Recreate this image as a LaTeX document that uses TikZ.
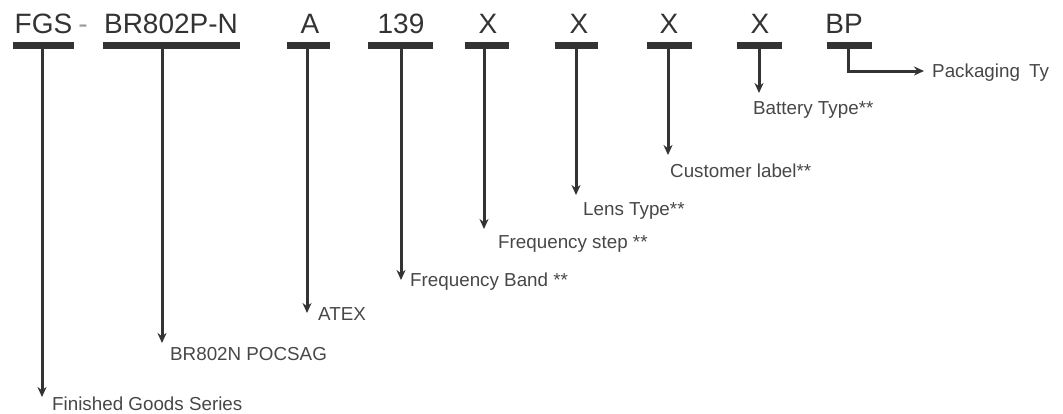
\documentclass[tikz,border=0pt]{standalone}
\usepackage{fontspec}
\setmainfont{Liberation Sans}
\usetikzlibrary{positioning}
\usetikzlibrary{arrows.meta}
\definecolor{codegray}{HTML}{333333}
\definecolor{descgray}{HTML}{474747}

\begin{document}
\begin{tikzpicture}
                [
                    x=1pt, y=-1pt,
                    code/.style = {anchor=base, inner sep=0pt, text=codegray, font=\fontsize{28}{30}\selectfont},
                    bar/.style = {rectangle, fill=codegray, inner sep=0pt, minimum height=6.5pt},
                    desc/.style = {anchor=base west, inner sep=0pt, text=descgray, font=\fontsize{18.8}{20}\selectfont},
                    arrow/.style = {draw=codegray, line width=3pt, -{Stealth[length=10pt,width=9pt]}}
                ]

                \useasboundingbox (0,0) rectangle (1063,413);

                % Typenschluessel
                \node (fgs) [code] at (43.5,33) {FGS};
                \node (dash) [code, text=codegray!50] at (83,33) {-};
                \node (br) [code] at (171,33) {BR802P-N};
                \node (atex) [code] at (310,33) {A};
                \node (band) [code] at (401,33) {139};
                \node (step) [code] at (488,33) {X};
                \node (lens) [code] at (579,33) {X};
                \node (cust) [code] at (669,33) {X};
                \node (batt) [code] at (760,33) {X};
                \node (pack) [code] at (844,33) {BP};

                % Balken
                \node (fgsbar) [bar, minimum width=61pt] at (43.5,45.5) {};
                \node (brbar) [bar, minimum width=137pt] at (171.5,45.5) {};
                \node (atexbar) [bar, minimum width=43pt] at (308.5,45.5) {};
                \node (bandbar) [bar, minimum width=65pt] at (400.5,45.5) {};
                \node (stepbar) [bar, minimum width=44pt] at (487,45.5) {};
                \node (lensbar) [bar, minimum width=43pt] at (576.5,45.5) {};
                \node (custbar) [bar, minimum width=45pt] at (669.5,45.5) {};
                \node (battbar) [bar, minimum width=45pt] at (759.5,45.5) {};
                \node (packbar) [bar, minimum width=45pt] at (849.5,45.5) {};

                % Pfeilspitzen
                \coordinate (fgstip) at (42,397);
                \coordinate (brtip) at (162,343);
                \coordinate (atextip) at (307,313);
                \coordinate (bandtip) at (401,280);
                \coordinate (steptip) at (484,229);
                \coordinate (lenstip) at (576,195);
                \coordinate (custtip) at (668,155);
                \coordinate (batttip) at (759,93);
                \coordinate (packtip) at (924,71);

                \draw[arrow] (fgsbar.south -| fgstip) -- (fgstip);
                \draw[arrow] (brbar.south -| brtip) -- (brtip);
                \draw[arrow] (atexbar.south -| atextip) -- (atextip);
                \draw[arrow] (bandbar.south -| bandtip) -- (bandtip);
                \draw[arrow] (stepbar.south -| steptip) -- (steptip);
                \draw[arrow] (lensbar.south -| lenstip) -- (lenstip);
                \draw[arrow] (custbar.south -| custtip) -- (custtip);
                \draw[arrow] (battbar.south -| batttip) -- (batttip);
                \draw[arrow] ([xshift=-1.5pt]packbar.south) |- (packtip);

                % Bedeutungen
                \node (fgsdesc) [desc] at (52,410) {Finished Goods Series};
                \node (brdesc) [desc] at (170,360) {BR802N POCSAG};
                \node (atexdesc) [desc] at (318,320.5) {ATEX};
                \node (banddesc) [desc] at (410,286.5) {Frequency Band **};
                \node (stepdesc) [desc] at (498,248.5) {Frequency step **};
                \node (lensdesc) [desc] at (583,215.5) {Lens Type**};
                \node (custdesc) [desc] at (670,177.5) {Customer label**};
                \node (battdesc) [desc] at (753,114) {Battery Type**};
                \node (packdesc) [desc] at (932,77.5) {Packaging\hspace{4pt} Ty};

            \end{tikzpicture}
\end{document}
